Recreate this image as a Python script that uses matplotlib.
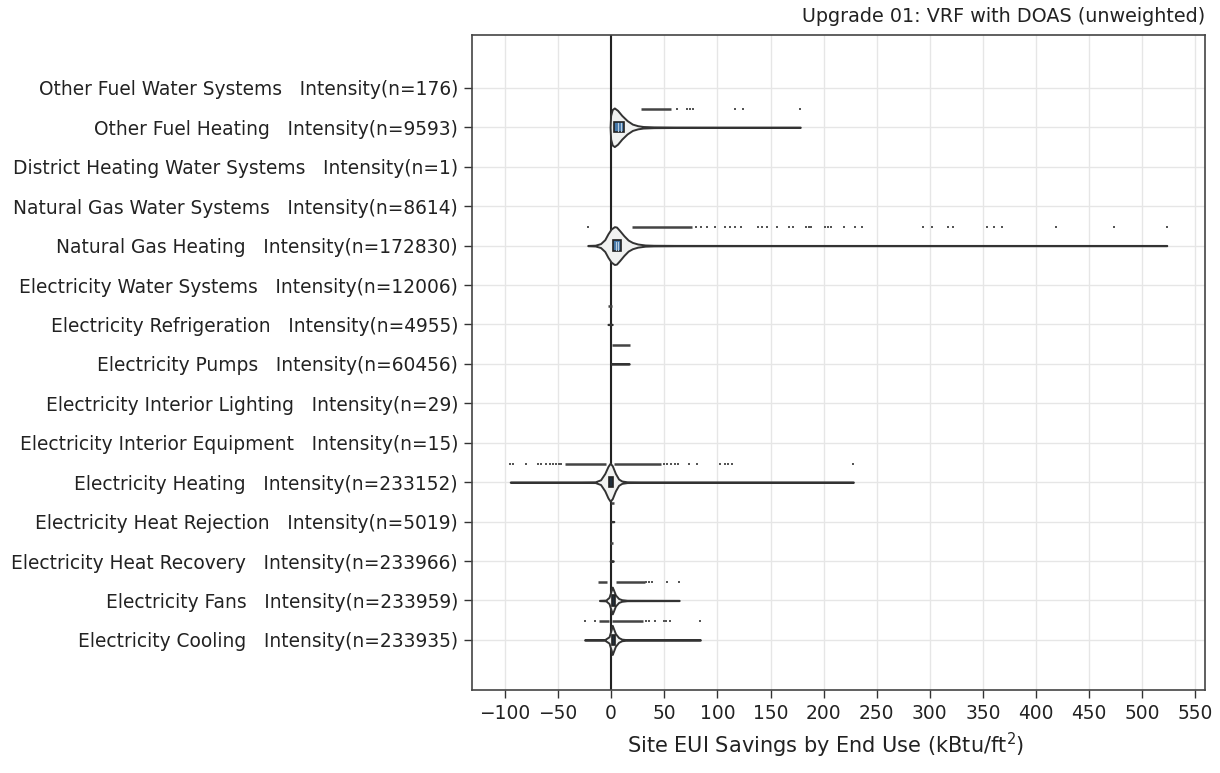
import matplotlib
matplotlib.use("Agg")
import matplotlib.pyplot as plt
from matplotlib.patches import Rectangle
import numpy as np

plt.rcParams['font.family'] = ['DejaVu Sans']

# ---- data (bottom -> top) ----
categories = [
    "Electricity Cooling   Intensity(n=233935)",
    "Electricity Fans   Intensity(n=233959)",
    "Electricity Heat Recovery   Intensity(n=233966)",
    "Electricity Heat Rejection   Intensity(n=5019)",
    "Electricity Heating   Intensity(n=233152)",
    "Electricity Interior Equipment   Intensity(n=15)",
    "Electricity Interior Lighting   Intensity(n=29)",
    "Electricity Pumps   Intensity(n=60456)",
    "Electricity Refrigeration   Intensity(n=4955)",
    "Electricity Water Systems   Intensity(n=12006)",
    "Natural Gas Heating   Intensity(n=172830)",
    "Natural Gas Water Systems   Intensity(n=8614)",
    "District Heating Water Systems   Intensity(n=1)",
    "Other Fuel Heating   Intensity(n=9593)",
    "Other Fuel Water Systems   Intensity(n=176)",
]

# violin profiles: x values and relative half-widths (density, scaled)
violin_x = {
    0: [-25, -6, -2, 0, 1, 2, 4, 7, 10, 15, 84],
    1: [-11, -5, -2, 0, 1, 2, 4, 7, 10, 15, 64],
    2: [-1, 0, 2],
    3: [0, 1, 2.5],
    4: [-95, -40, -15, -10, -6, -3, -1, 1, 4, 7, 10, 15, 40, 228],
    7: [0, 1, 17],
    8: [-3, 0, 1],
    10: [-22, -15, -10, -6, -3, 0, 3, 5, 8, 12, 16, 20, 25, 32, 40, 60, 150, 523],
    13: [-1, -0.5, 1, 3, 6, 10, 15, 20, 25, 30, 40, 60, 100, 178],
}
violin_w = {
    0: [0.004, 0.01, 0.08, 0.26, 0.37, 0.3, 0.16, 0.06, 0.02, 0.006, 0.004],
    1: [0.004, 0.01, 0.08, 0.25, 0.34, 0.28, 0.14, 0.05, 0.02, 0.006, 0.004],
    2: [0.004, 0.006, 0.004],
    3: [0.004, 0.006, 0.004],
    4: [0.004, 0.005, 0.01, 0.06, 0.22, 0.4, 0.48, 0.42, 0.22, 0.08, 0.03, 0.01, 0.005, 0.004],
    7: [0.006, 0.004, 0.004],
    8: [0.004, 0.006, 0.004],
    10: [0.004, 0.01, 0.05, 0.15, 0.3, 0.42, 0.48, 0.47, 0.38, 0.25, 0.14, 0.08, 0.04, 0.015, 0.008, 0.005, 0.004, 0.004],
    13: [0.0, 0.3, 0.45, 0.49, 0.43, 0.3, 0.17, 0.08, 0.04, 0.02, 0.01, 0.006, 0.005, 0.004],
}

# box stats: q1, median, mean, q3
box_stats = {
    0: (0.5, 1.8, 2.6, 3.5),
    1: (1.0, 2.0, 3.0, 4.0),
    4: (-2.5, -0.8, 0.2, 1.5),
    10: (2.0, 4.5, 6.5, 9.0),
    13: (3.0, 6.0, 9.0, 12.0),
}

# outliers: dense runs (start, end) and single points
outlier_runs = {
    0: [(-11, -2), (1, 30)],
    1: [(-12, -4), (5, 32)],
    2: [(-1, 2)],
    3: [(0, 2.5)],
    4: [(-43, -5), (3, 47)],
    7: [(1, 18)],
    8: [(-3, 1)],
    10: [(20, 76)],
    13: [(28, 56)],
}
outlier_points = {
    0: [-25, -15, 33, 36, 41, 50, 52, 55, 84],
    1: [33, 36, 38, 53, 64],
    4: [-95, -92, -80, -69, -66, -61, -58, -55, -52, -49, -47, 50, 53, 56, 60, 63, 73, 81, 102, 107, 110, 114, 228],
    10: [-22, 80, 85, 90, 98, 107, 112, 117, 122, 138, 142, 147, 156, 167, 171, 183, 186, 188,
         201, 204, 207, 219, 230, 236, 294, 302, 317, 322, 354, 360, 368, 419, 473, 523],
    13: [62, 71, 74, 77, 117, 124, 178],
}

x_ticks = [-100, -50, 0, 50, 100, 150, 200, 250, 300, 350, 400, 450, 500, 550]

# ---- figure ----
fig = plt.figure(figsize=(12.2, 7.73), dpi=100)
ax = fig.add_axes([472 / 1220, 1 - 690 / 773, (1205 - 472) / 1220, (690 - 35) / 773])

ax.set_xlim(-131, 559)
ax.set_ylim(-1.27, 15.34)

grid_c = '#e6e6e6'
for xt in x_ticks:
    ax.axvline(xt, color=grid_c, lw=1.0, zorder=0)
for i in range(len(categories)):
    ax.axhline(i, color=grid_c, lw=1.0, zorder=0)
ax.axvline(0, color='#222222', lw=1.5, zorder=1)

edge_c = '#333333'
out_off = 0.47
for i, xs in violin_x.items():
    xs = np.array(xs, dtype=float)
    w = np.array(violin_w[i], dtype=float)
    ax.fill_between(xs, i - w, i + w, facecolor='#f1f2f1', edgecolor=edge_c,
                    lw=1.4, zorder=2)
for i, (q1, med, mean, q3) in box_stats.items():
    h = 0.13
    wide = (q3 - q1) > 6
    ax.add_patch(Rectangle((q1, i - h), q3 - q1, 2 * h,
                           facecolor='#4678a8' if wide else '#1f2d3a',
                           edgecolor='#222222', lw=1.2, zorder=3))
    if wide:
        for v in (med, mean):
            ax.plot([v, v], [i - h + 0.03, i + h - 0.03], color='#b9cde0', lw=0.8, zorder=4)
for i, runs in outlier_runs.items():
    for a, b in runs:
        ax.plot([a, b], [i + out_off, i + out_off], color='#444444', lw=1.8,
                solid_capstyle='butt', zorder=3)
for i, pts in outlier_points.items():
    ax.plot(pts, [i + out_off] * len(pts), linestyle='none', marker='s',
            markersize=1.6, color='#555555', markeredgewidth=0, zorder=3)

ax.set_xticks(x_ticks)
ax.set_xticklabels([str(t).replace('-', '\u2212') for t in x_ticks])
ax.set_yticks(range(len(categories)))
ax.set_yticklabels(categories)
ax.tick_params(axis='both', labelsize=13.4, colors='#333333', length=6, width=1.0,
               direction='out')
ax.tick_params(axis='x', pad=4)
ax.tick_params(axis='y', pad=4)
for lab in ax.get_xticklabels() + ax.get_yticklabels():
    lab.set_color('#222222')
for s in ax.spines.values():
    s.set_color('#444444')
    s.set_linewidth(1.2)

fig.text(1205 / 1220, 1 - 17 / 773, "Upgrade 01: VRF with DOAS (unweighted)",
         ha='right', va='center', fontsize=13.8, color='#222222')
fig.text(826 / 1220, 1 - 745 / 773, r"Site EUI Savings by End Use (kBtu/ft$^2$)",
         ha='center', va='center', fontsize=15, color='#222222')

fig.savefig("out.png", dpi=100)
